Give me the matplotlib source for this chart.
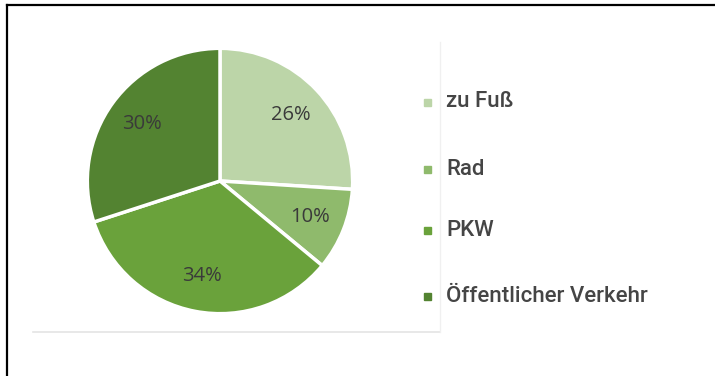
import matplotlib.pyplot as plt
from matplotlib.lines import Line2D
from matplotlib.patches import Rectangle

modes = ["zu Fuß", "Rad", "PKW", "Öffentlicher Verkehr"]
shares = [26, 10, 34, 30]
colors = ["#bcd5a8", "#8fba6c", "#6aa23b", "#538331"]

W, H = 715, 376
fig = plt.figure(figsize=(W / 100, H / 100), dpi=100)
fig.patch.set_facecolor("white")

# frame lines (top and left)
fig.add_artist(Line2D([7 / W, 1], [1 - 5 / H, 1 - 5 / H], color="black", lw=1.6))
fig.add_artist(Line2D([7 / W, 7 / W], [0, 1 - 5 / H], color="black", lw=1.6))

# faint outline of the chart area
fig.add_artist(Line2D([33 / W, 440 / W], [1 - 332 / H, 1 - 332 / H], color="#e4e4e4", lw=1.2))
fig.add_artist(Line2D([440 / W, 440 / W], [1 - 332 / H, 1 - 42 / H], color="#f0f0f0", lw=1.0))

# pie axes centred at (220, 181), radius ~134 px
r = 134
ax = fig.add_axes([(220 - r) / W, 1 - (181 + r) / H, 2 * r / W, 2 * r / H])
wedges, texts, autotexts = ax.pie(
    shares, colors=colors, startangle=90, counterclock=False,
    autopct="%d%%", pctdistance=0.73,
    wedgeprops=dict(edgecolor="white", linewidth=2.5),
    textprops=dict(color="#3a3a3a", fontsize=14.5, family="Open Sans"))
ax.set_xlim(-1.01, 1.01)
ax.set_ylim(-1.01, 1.01)
ax.set_aspect("equal")

# legend with small square markers
ys = [102, 169, 230, 296]
for lab, col, y in zip(modes, colors, ys):
    fig.add_artist(Rectangle((424 / W, 1 - (y + 4) / H), 7 / W, 7 / H,
                             transform=fig.transFigure, color=col))
    fig.text(446 / W, 1 - y / H, lab, fontsize=16, color="#454545",
             va="center", ha="left", family="Roboto", weight="medium")

plt.savefig("out.png", dpi=100)
